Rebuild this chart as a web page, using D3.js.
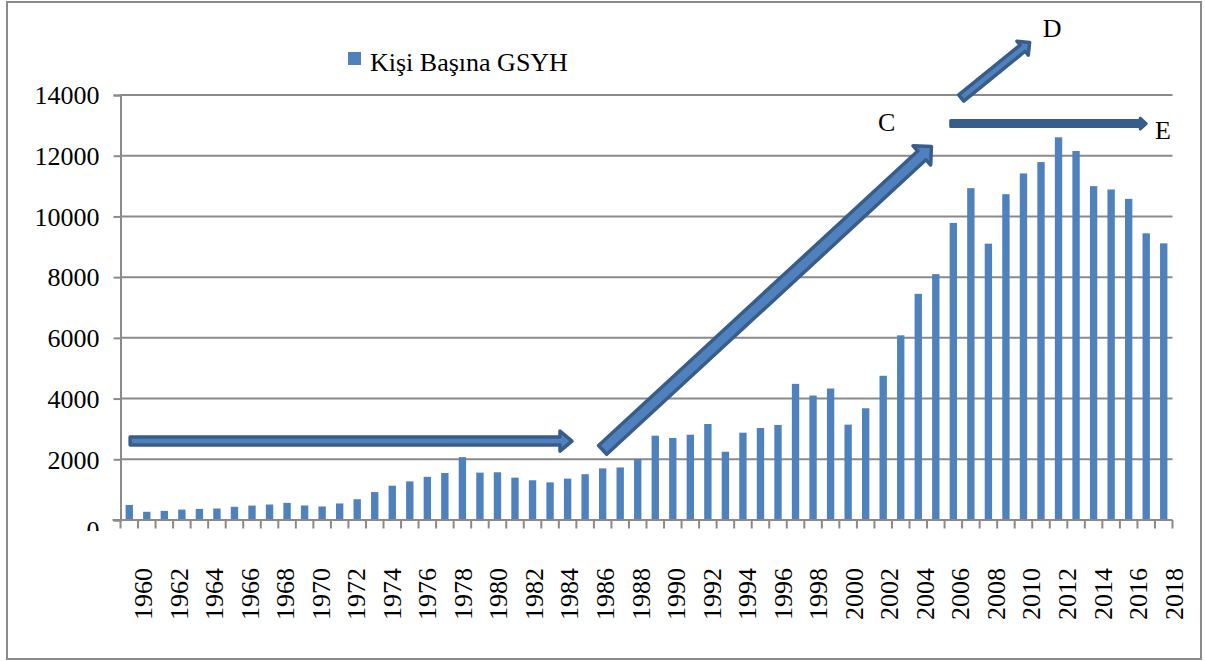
<!DOCTYPE html>
<html>
<head>
<meta charset="utf-8">
<script src="https://cdn.jsdelivr.net/npm/d3@7"></script>
<style>
  html, body { margin: 0; padding: 0; background: #fff; }
  svg { display: block; }
  text { font-family: "Liberation Serif", "Times New Roman", serif; fill: #000; }
</style>
</head>
<body>
<svg id="chart"></svg>
<script>
// categories
const years = [
  1960, 1961, 1962, 1963, 1964, 1965, 1966, 1967, 1968, 1969,
  1970, 1971, 1972, 1973, 1974, 1975, 1976, 1977, 1978, 1979,
  1980, 1981, 1982, 1983, 1984, 1985, 1986, 1987, 1988, 1989,
  1990, 1991, 1992, 1993, 1994, 1995, 1996, 1997, 1998, 1999,
  2000, 2001, 2002, 2003, 2004, 2005, 2006, 2007, 2008, 2009,
  2010, 2011, 2012, 2013, 2014, 2015, 2016, 2017, 2018, 2019
]
// Kişi Başına GSYH values
const gdp = [
  497, 270, 300, 343, 365, 378, 435, 475, 510, 564,
  478, 445, 545, 685, 920, 1130, 1272, 1422, 1548, 2070,
  1560, 1572, 1395, 1308, 1240, 1362, 1508, 1700, 1730, 2005,
  2777, 2700, 2810, 3163, 2248, 2876, 3030, 3130, 4485, 4099,
  4331, 3141, 3681, 4750, 6083, 7450, 8100, 9786, 10932, 9103,
  10733, 11417, 11791, 12607, 12155, 10998, 10888, 10579, 9444, 9114
]
const xLabels = [
  '1960', '1962', '1964', '1966', '1968', '1970', '1972', '1974', '1976', '1978',
  '1980', '1982', '1984', '1986', '1988', '1990', '1992', '1994', '1996', '1998',
  '2000', '2002', '2004', '2006', '2008', '2010', '2012', '2014', '2016', '2018'
]
const yTicks = [0, 2000, 4000, 6000, 8000, 10000, 12000, 14000]
const seriesName = 'Kişi Başına GSYH'

// annotation arrows, in data units (position in bands from axis start, value)
const arrows = [
  { from: [0.55, 2600], to: [25.75, 2600], kind: 'block', sw: 4, hw: 10, hl: 12 },
  { from: [27.5, 2310], to: [46.25, 12300], kind: 'block', sw: 6, hw: 13, hl: 13 },
  { from: [47.95, 13900], to: [51.85, 15730], kind: 'block', sw: 4, hw: 9, hl: 9 },
  { from: [47.35, 13060], to: [58.5, 13060], kind: 'solid', sw: 3, hw: 5.5, hl: 6 }
]
const notes = [
  { text: 'C', at: [43.2, 12800] },
  { text: 'D', at: [52.6, 15915] },
  { text: 'E', at: [59.0, 12537] }
]

const width = 1205
const height = 661
const margin = { left: 120.5, right: 32.5, top: 95, bottom: 141 }
const font = '"Liberation Serif", "Times New Roman", serif'
const gridColor = '#8a8a8a'
const barColor = '#4f81bd'
const arrowLine = '#385d8a'

const svg = d3.select('#chart').attr('width', width).attr('height', height)

// outer frame
svg.append('rect')
  .attr('x', 7).attr('y', 2)
  .attr('width', 1194).attr('height', 657)
  .attr('fill', '#fff')
  .attr('stroke', gridColor)
  .attr('stroke-width', 2)

const x = d3.scaleBand()
  .domain(years)
  .range([margin.left, width - margin.right])
  .padding(0)
const bw = x.bandwidth()
const pos = p => margin.left + p * bw

const y = d3.scaleLinear()
  .domain([0, 14000])
  .range([height - margin.bottom, margin.top])

// gridlines
svg.append('g')
  .selectAll('line')
  .data(yTicks.slice(1))
  .join('line')
  .attr('x1', margin.left)
  .attr('x2', width - margin.right)
  .attr('y1', d => y(d))
  .attr('y2', d => y(d))
  .attr('stroke', gridColor)
  .attr('stroke-width', 2)

// bars
svg.append('g')
  .selectAll('rect')
  .data(gdp)
  .join('rect')
  .attr('x', (d, i) => x(years[i]) + bw * 0.29)
  .attr('width', bw * 0.42)
  .attr('y', d => y(d))
  .attr('height', d => y(0) - y(d))
  .attr('fill', barColor)

// y axis (the 0 label sits low and is cut off, as in the original)
const yAxis = d3.axisLeft(y).tickValues(yTicks).tickSize(7).tickFormat(d3.format('d'))
svg.append('clipPath').attr('id', 'yclip')
  .append('rect')
  .attr('x', -margin.left).attr('y', 0)
  .attr('width', width).attr('height', 531)
const yg = svg.append('g')
  .attr('transform', `translate(${margin.left},0)`)
  .attr('clip-path', 'url(#yclip)')
  .call(yAxis)
yg.attr('font-family', font).attr('font-size', 26)
yg.select('.domain').attr('stroke', gridColor).attr('stroke-width', 2)
yg.selectAll('.tick line').attr('stroke', gridColor).attr('stroke-width', 2)
yg.selectAll('.tick text')
  .attr('x', -21)
  .attr('dy', d => (d === 0 ? '0.72em' : '0.34em'))
  .style('font-family', font)
  .style('font-size', '26px')
  .attr('fill', '#000')

// x axis line and ticks
const xg = svg.append('g')
xg.append('line')
  .attr('x1', margin.left - 8).attr('x2', width - margin.right)
  .attr('y1', y(0)).attr('y2', y(0))
  .attr('stroke', gridColor).attr('stroke-width', 2)
xg.selectAll('.xtick')
  .data(years.map(v => x(v)).concat([width - margin.right]))
  .join('line')
  .attr('class', 'xtick')
  .attr('x1', d => d).attr('x2', d => d)
  .attr('y1', y(0)).attr('y2', y(0) + 8.5)
  .attr('stroke', gridColor).attr('stroke-width', 2)

const xl = d3.scalePoint()
  .domain(xLabels)
  .range([margin.left + bw * 1.29, width - margin.right + 1.3])
xg.selectAll('.xlabel')
  .data(xLabels)
  .join('text')
  .attr('class', 'xlabel')
  .attr('transform', d => `translate(${xl(d)},568) rotate(-90)`)
  .attr('text-anchor', 'end')
  .attr('dy', '0.34em')
  .style('font-family', font)
  .style('font-size', '26px')
  .text(d => d)

// legend
const legend = svg.append('g')
legend.append('rect')
  .attr('x', 348).attr('y', 52)
  .attr('width', 13).attr('height', 13)
  .attr('fill', barColor)
legend.append('text')
  .attr('x', 370).attr('y', 71)
  .style('font-family', font)
  .style('font-size', '26px')
  .text(seriesName)

// arrows
function arrowPath (a) {
  const x1 = pos(a.from[0])
  const y1 = y(a.from[1])
  const x2 = pos(a.to[0])
  const y2 = y(a.to[1])
  const len = Math.hypot(x2 - x1, y2 - y1)
  const ang = Math.atan2(y2 - y1, x2 - x1) * 180 / Math.PI
  const pts = [
    [0, -a.sw], [len - a.hl, -a.sw], [len - a.hl, -a.hw], [len, 0],
    [len - a.hl, a.hw], [len - a.hl, a.sw], [0, a.sw]
  ]
  return { d: d3.line()(pts) + 'Z', t: `translate(${x1},${y1}) rotate(${ang})` }
}
svg.append('g')
  .selectAll('path')
  .data(arrows)
  .join('path')
  .attr('d', d => arrowPath(d).d)
  .attr('transform', d => arrowPath(d).t)
  .attr('fill', d => (d.kind === 'solid' ? arrowLine : barColor))
  .attr('stroke', arrowLine)
  .attr('stroke-width', d => (d.kind === 'solid' ? 3 : 3.5))
  .attr('stroke-linejoin', 'round')

svg.append('g')
  .selectAll('text')
  .data(notes)
  .join('text')
  .attr('x', d => pos(d.at[0]))
  .attr('y', d => y(d.at[1]))
  .style('font-family', font)
  .style('font-size', '26px')
  .text(d => d.text)
</script>
</body>
</html>
